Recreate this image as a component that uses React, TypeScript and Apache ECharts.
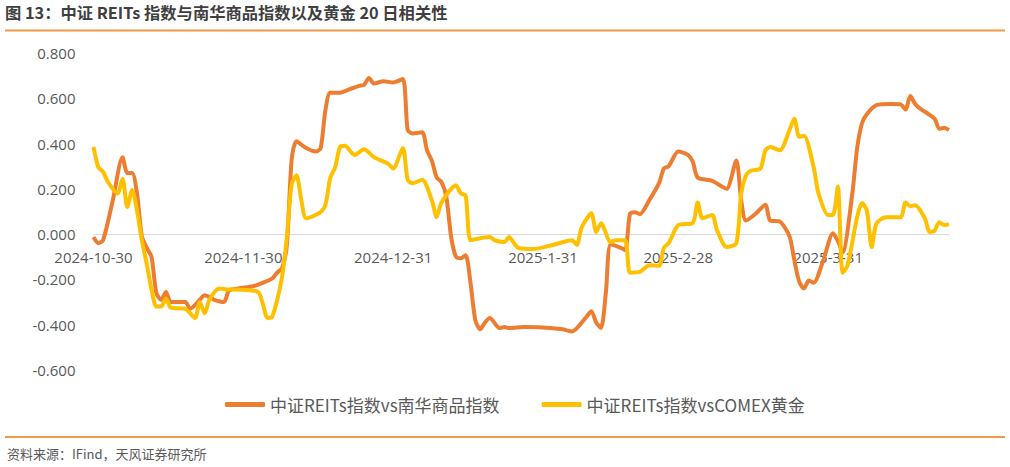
import React, { useEffect, useRef } from "react";
import * as echarts from "echarts";

const titleText = "图 13：中证 REITs 指数与南华商品指数以及黄金 20 日相关性";
const sourceText = "资料来源：IFind，天风证券研究所";
const seriesNames = ["中证REITs指数vs南华商品指数", "中证REITs指数vsCOMEX黄金"];
const tickDates = ["2024-10-30", "2024-11-30", "2024-12-31", "2025-01-31", "2025-02-28", "2025-03-31"];
const axisStart = "2024-10-30";
const axisEnd = "2025-04-25";

const nanhuaDates = [
  "2024-10-30", "2024-10-31", "2024-11-01", "2024-11-03", "2024-11-05", "2024-11-06", "2024-11-07", "2024-11-08",
  "2024-11-09", "2024-11-10", "2024-11-11", "2024-11-12", "2024-11-13", "2024-11-14", "2024-11-15", "2024-11-18",
  "2024-11-19", "2024-11-21", "2024-11-22", "2024-11-24", "2024-11-26", "2024-11-27", "2024-11-29", "2024-12-02",
  "2024-12-04", "2024-12-06", "2024-12-07", "2024-12-08", "2024-12-09", "2024-12-10", "2024-12-11", "2024-12-13",
  "2024-12-15", "2024-12-16", "2024-12-17", "2024-12-18", "2024-12-20", "2024-12-22", "2024-12-24", "2024-12-25",
  "2024-12-26", "2024-12-27", "2024-12-29", "2024-12-31", "2025-01-02", "2025-01-03", "2025-01-04", "2025-01-06",
  "2025-01-07", "2025-01-08", "2025-01-09", "2025-01-10", "2025-01-11", "2025-01-12", "2025-01-13", "2025-01-14",
  "2025-01-15", "2025-01-16", "2025-01-17", "2025-01-18", "2025-01-19", "2025-01-20", "2025-01-22", "2025-01-23",
  "2025-01-24", "2025-01-27", "2025-01-31", "2025-02-04", "2025-02-06", "2025-02-09", "2025-02-10", "2025-02-11",
  "2025-02-12", "2025-02-13", "2025-02-14", "2025-02-16", "2025-02-17", "2025-02-18", "2025-02-19", "2025-02-20",
  "2025-02-22", "2025-02-24", "2025-02-25", "2025-02-26", "2025-02-28", "2025-03-02", "2025-03-03", "2025-03-04",
  "2025-03-07", "2025-03-09", "2025-03-10", "2025-03-12", "2025-03-13", "2025-03-14", "2025-03-16", "2025-03-18",
  "2025-03-19", "2025-03-21", "2025-03-23", "2025-03-24", "2025-03-25", "2025-03-26", "2025-03-27", "2025-03-28",
  "2025-03-30", "2025-04-01", "2025-04-02", "2025-04-03", "2025-04-05", "2025-04-06", "2025-04-07", "2025-04-08",
  "2025-04-10", "2025-04-13", "2025-04-15", "2025-04-16", "2025-04-17", "2025-04-18", "2025-04-19", "2025-04-22",
  "2025-04-23", "2025-04-24", "2025-04-25",
];
const nanhuaValues = [
  -0.013, -0.04, -0.026, 0.15, 0.34, 0.27, 0.27, 0.18,
  -0.01, -0.06, -0.1, -0.26, -0.29, -0.255, -0.3, -0.3,
  -0.33, -0.29, -0.27, -0.29, -0.3, -0.25, -0.24, -0.23,
  -0.215, -0.195, -0.17, -0.15, -0.05, 0.33, 0.41, 0.38,
  0.365, 0.38, 0.55, 0.625, 0.625, 0.64, 0.655, 0.66,
  0.69, 0.665, 0.675, 0.67, 0.685, 0.46, 0.445, 0.45,
  0.37, 0.325, 0.25, 0.23, 0.165, -0.013, -0.1, -0.107,
  -0.093, -0.215, -0.38, -0.42, -0.39, -0.37, -0.415, -0.41,
  -0.415, -0.41, -0.412, -0.42, -0.43, -0.365, -0.34, -0.39,
  -0.415, -0.26, -0.045, -0.06, -0.07, 0.09, 0.097, 0.088,
  0.15, 0.225, 0.29, 0.3, 0.365, 0.35, 0.32, 0.25,
  0.235, 0.21, 0.2, 0.325, 0.15, 0.06, 0.09, 0.13,
  0.06, 0.055, -0.01, -0.115, -0.21, -0.24, -0.205, -0.215,
  -0.115, 0.004, -0.03, -0.08, 0.18, 0.38, 0.49, 0.53,
  0.57, 0.575, 0.573, 0.55, 0.61, 0.575, 0.555, 0.51,
  0.465, 0.47, 0.46,
];

const goldDates = [
  "2024-10-30", "2024-10-31", "2024-11-01", "2024-11-02", "2024-11-04", "2024-11-05", "2024-11-06", "2024-11-07",
  "2024-11-08", "2024-11-09", "2024-11-10", "2024-11-11", "2024-11-12", "2024-11-13", "2024-11-14", "2024-11-15",
  "2024-11-18", "2024-11-20", "2024-11-21", "2024-11-22", "2024-11-23", "2024-11-25", "2024-11-27", "2024-11-28",
  "2024-12-03", "2024-12-04", "2024-12-05", "2024-12-06", "2024-12-08", "2024-12-09", "2024-12-10", "2024-12-11",
  "2024-12-12", "2024-12-13", "2024-12-16", "2024-12-17", "2024-12-18", "2024-12-19", "2024-12-20", "2024-12-21",
  "2024-12-23", "2024-12-25", "2024-12-27", "2024-12-30", "2024-12-31", "2025-01-02", "2025-01-03", "2025-01-04",
  "2025-01-06", "2025-01-08", "2025-01-09", "2025-01-10", "2025-01-13", "2025-01-14", "2025-01-15", "2025-01-16",
  "2025-01-18", "2025-01-20", "2025-01-21", "2025-01-23", "2025-01-24", "2025-01-25", "2025-01-26", "2025-01-29",
  "2025-02-02", "2025-02-06", "2025-02-07", "2025-02-08", "2025-02-10", "2025-02-11", "2025-02-12", "2025-02-14",
  "2025-02-15", "2025-02-17", "2025-02-18", "2025-02-20", "2025-02-22", "2025-02-24", "2025-02-25", "2025-02-26",
  "2025-02-28", "2025-03-03", "2025-03-04", "2025-03-05", "2025-03-07", "2025-03-08", "2025-03-10", "2025-03-12",
  "2025-03-13", "2025-03-14", "2025-03-15", "2025-03-17", "2025-03-18", "2025-03-19", "2025-03-21", "2025-03-23",
  "2025-03-24", "2025-03-25", "2025-03-26", "2025-03-28", "2025-03-29", "2025-03-31", "2025-04-01", "2025-04-02",
  "2025-04-03", "2025-04-04", "2025-04-06", "2025-04-07", "2025-04-08", "2025-04-09", "2025-04-10", "2025-04-12",
  "2025-04-15", "2025-04-16", "2025-04-17", "2025-04-18", "2025-04-20", "2025-04-21", "2025-04-22", "2025-04-23",
  "2025-04-24", "2025-04-25",
];
const goldValues = [
  0.385, 0.295, 0.275, 0.23, 0.18, 0.245, 0.12, 0.195,
  0.105, -0.027, -0.13, -0.245, -0.32, -0.32, -0.285, -0.325,
  -0.33, -0.37, -0.3, -0.35, -0.29, -0.24, -0.245, -0.245,
  -0.255, -0.305, -0.37, -0.365, -0.19, -0.013, 0.22, 0.26,
  0.15, 0.07, 0.097, 0.13, 0.25, 0.295, 0.385, 0.39,
  0.35, 0.375, 0.34, 0.31, 0.29, 0.38, 0.24, 0.225,
  0.24, 0.15, 0.075, 0.14, 0.215, 0.18, 0.17, -0.027,
  -0.018, -0.013, -0.027, -0.035, -0.013, -0.04, -0.062, -0.066,
  -0.048, -0.027, -0.048, 0.03, 0.092, 0.01, 0.048, -0.035,
  -0.027, -0.027, -0.17, -0.167, -0.137, -0.14, -0.06, -0.04,
  0.04, 0.05, 0.14, 0.07, 0.084, 0.018, -0.057, -0.04,
  0.18, 0.26, 0.28, 0.29, 0.37, 0.385, 0.37, 0.46,
  0.51, 0.43, 0.435, 0.295, 0.18, 0.084, 0.084, 0.21,
  -0.17, -0.14, 0.075, 0.137, 0.105, -0.057, 0.048, 0.075,
  0.075, 0.14, 0.123, 0.128, 0.07, 0.01, 0.015, 0.053,
  0.04, 0.044,
];

const toTs = (s: string) => {
  const [y, m, d] = s.split("-").map(Number);
  return new Date(y, m - 1, d).getTime();
};

export default function App() {
  const ref = useRef<HTMLDivElement>(null);
  useEffect(() => {
    if (!ref.current) return;
    const chart = echarts.init(ref.current, null, { renderer: "svg" });
    const labelFont = '"Open Sans", "Noto Sans", sans-serif';
    const cjkFont = '"Noto Sans CJK SC", "Noto Sans", sans-serif';
    const gridTop = 53;
    const gridBottom = 97;
    const plotH = 467 - gridTop - gridBottom;
    const yMin = -0.6;
    const yMax = 0.8;
    // distance from plot bottom up to the zero value line
    const zeroOffset = -plotH * (0 - yMin) / (yMax - yMin);
    chart.setOption({
      animation: false,
      backgroundColor: "#ffffff",
      grid: { left: 93.5, right: 61, top: gridTop, bottom: gridBottom, containLabel: false },
      legend: {
        left: 220,
        top: 391,
        itemWidth: 40,
        itemHeight: 5,
        itemGap: 42,
        icon: "roundRect",
        textStyle: { fontSize: 17, color: "#595959", fontFamily: cjkFont },
        data: seriesNames,
      },
      xAxis: {
        type: "value",
        position: "bottom",
        offset: zeroOffset,
        min: toTs(axisStart),
        max: toTs(axisEnd),
        axisLine: { show: true, onZero: false, lineStyle: { color: "#d9d9d9", width: 1 } },
        axisTick: { show: false },
        splitLine: { show: false },
        axisLabel: {
          customValues: tickDates.map(toTs),
          margin: 15,
          fontSize: 15,
          color: "#595959",
          fontFamily: labelFont,
          hideOverlap: false,
          formatter: (val: number) => {
            const d = new Date(val);
            return `${d.getFullYear()}-${d.getMonth() + 1}-${d.getDate()}`;
          },
        },
      },
      yAxis: {
        type: "value",
        min: yMin,
        max: yMax,
        interval: 0.2,
        axisLine: { show: false, onZero: false },
        axisTick: { show: false },
        splitLine: { show: false },
        axisLabel: {
          margin: 18,
          fontSize: 15,
          color: "#595959",
          fontFamily: labelFont,
          formatter: (v: number) => v.toFixed(3),
        },
      },
      series: [
        {
          name: seriesNames[0],
          type: "line",
          data: nanhuaDates.map((d, i) => [toTs(d), nanhuaValues[i]]),
          showSymbol: false,
          symbol: "none",
          smooth: 0.25,
          z: 3,
          lineStyle: { width: 4, color: "#ED7D31" },
          itemStyle: { color: "#ED7D31" },
        },
        {
          name: seriesNames[1],
          type: "line",
          data: goldDates.map((d, i) => [toTs(d), goldValues[i]]),
          showSymbol: false,
          symbol: "none",
          smooth: 0.25,
          z: 4,
          lineStyle: { width: 4, color: "#FFC000" },
          itemStyle: { color: "#FFC000" },
        },
      ],
      graphic: [
        {
          type: "text",
          left: 5,
          top: 4,
          style: { text: titleText, fontSize: 16.3, fontWeight: "bold", fill: "#3f3f3f", fontFamily: cjkFont },
        },
        {
          type: "line",
          shape: { x1: 5, y1: 30.5, x2: 1005, y2: 30.5 },
          style: { stroke: "#F39A4A", lineWidth: 2 },
        },
        {
          type: "line",
          shape: { x1: 5, y1: 437, x2: 1005, y2: 437 },
          style: { stroke: "#F39A4A", lineWidth: 2 },
        },
        {
          type: "text",
          left: 7,
          top: 447,
          style: { text: sourceText, fontSize: 13, fill: "#595959", fontFamily: cjkFont },
        },
      ],
    });
    return () => chart.dispose();
  }, []);
  return <div ref={ref} style={{ position: "absolute", left: 0, top: 0, width: 1010, height: 467 }} />;
}
